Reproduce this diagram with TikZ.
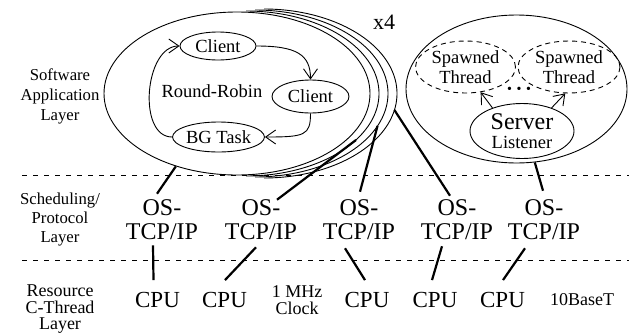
\documentclass[tikz,border=0pt]{standalone}
\usepackage{fontspec}
\setmainfont{Liberation Serif}
\usetikzlibrary{shapes.geometric,arrows.meta,calc}

\begin{document}
\begin{tikzpicture}[x=1pt,y=-1pt,
  thinline/.style={line width=0.9pt},
  oval/.style={ellipse, draw, line width=0.9pt, inner sep=0pt, align=center},
  dashoval/.style={oval, dash pattern=on 5pt off 4pt},
  layerlabel/.style={align=center, inner sep=0pt},
  link/.style={line width=2.2pt},
  flow/.style={line width=0.9pt, -{Straight Barb[length=10pt,width=14pt,line width=0.9pt]}},
  osnode/.style={align=center, inner sep=0pt, font=\fontsize{24}{24}\selectfont},
  cpunode/.style={inner sep=0pt, font=\fontsize{23}{23}\selectfont},
  note/.style={align=center, inner sep=0pt, font=\fontsize{18}{17}\selectfont},
  divider/.style={line width=0.9pt, dash pattern=on 5pt off 6pt}]

\useasboundingbox (0,0) rectangle (629,335);

% layer separators
\draw[divider] (22,175) -- (629,175);
\draw[divider] (22,260) -- (629,260);

% layer names
\node[layerlabel, font=\fontsize{16.7}{20}\selectfont] (lsw) at (60,96.5) {Software\\Application\\Layer};
\node[layerlabel, font=\fontsize{16.7}{19}\selectfont] (lsch) at (60,219.5) {Scheduling/\\Protocol\\Layer};
\node[layerlabel, font=\fontsize{18}{16.5}\selectfont] (lres) at (60,309.5) {Resource\\C-Thread\\Layer};

% client application, replicated four times
\node[oval, minimum width=266pt, minimum height=163pt] (app) at (237,93.5) {};
\foreach \k in {1,2,3}
  \draw[thinline] plot[domain=-90:90, samples=90, smooth]
    ({237+9*\k+133*cos(\x)}, {93.5+(81.5+\k)*sin(\x)});
\coordinate (s2) at (356,140);
\coordinate (s3) at (377.5,126);
\coordinate (s4) at (394.4,110);
\node[font=\fontsize{22}{22}\selectfont, inner sep=0pt] (x4) at (384,22) {x4};

\node[oval, minimum width=76pt, minimum height=28pt, font=\fontsize{18.5}{18.5}\selectfont] (c1) at (218,46) {Client};
\node[oval, minimum width=77pt, minimum height=33pt, font=\fontsize{18.5}{18.5}\selectfont] (c2) at (310.5,96.5) {Client};
\node[oval, minimum width=77pt, minimum height=30pt, font=\fontsize{18.5}{18.5}\selectfont] (bg) at (218.5,137) {BG Task};
\node[inner sep=0pt, font=\fontsize{18.5}{18.5}\selectfont] (rr) at (212,91) {Round-Robin};

\draw[flow] (c1.east) .. controls +(40,0) and +(0,-25) .. (c2.north);
\draw[flow] (c2.south) .. controls +(0,22) and +(40,0) .. (bg.east);
\draw[flow] (bg.west) .. controls +(-35,0) and +(-35,0) .. (c1.west);

% server application
\node[oval, minimum width=221pt, minimum height=148pt] (host) at (516.5,89) {};
\node[dashoval, minimum width=100pt, minimum height=52pt, font=\fontsize{18.5}{20}\selectfont] (sp1) at (465.5,67) {Spawned\\Thread};
\node[dashoval, minimum width=102pt, minimum height=52pt, font=\fontsize{18.5}{20}\selectfont] (sp2) at (569,67) {Spawned\\Thread};
\node[inner sep=0pt, font=\fontsize{14}{14}\selectfont] (dots) at (519,90) {\textbullet\hspace{4.6pt}\textbullet\hspace{4.6pt}\textbullet};
\node[oval, minimum width=104pt, minimum height=55pt, font=\fontsize{18.5}{19.5}\selectfont] (srv) at (522,131) {{\fontsize{24}{24}\selectfont Server}\\Listener};
\draw[flow] (srv.142) -- (sp1.-59);
\draw[flow] (srv.38) -- (sp2.262);

% protocol stacks
\node[osnode] (os1) at (162,220) {OS-\\TCP/IP};
\node[osnode] (os2) at (261,220) {OS-\\TCP/IP};
\node[osnode] (os3) at (359,220) {OS-\\TCP/IP};
\node[osnode] (os4) at (457,220) {OS-\\TCP/IP};
\node[osnode] (os5) at (544,220) {OS-\\TCP/IP};

% resources
\node[cpunode] (cpu1) at (157.5,300) {CPU};
\node[cpunode] (cpu2) at (224.5,300) {CPU};
\node[cpunode] (cpu3) at (367,300) {CPU};
\node[cpunode] (cpu4) at (435,300) {CPU};
\node[cpunode] (cpu5) at (502.5,300) {CPU};
\node[note] (clk) at (297,300) {1 MHz\\Clock};
\node[note] (eth) at (582,300) {10BaseT};

% application to protocol links
\draw[link] (app.230) -- ($(os1.north)+(-5,-6)$);
\draw[link] (s2) -- ($(os2.north)+(16,0)$);
\draw[link] (s3) -- ($(os3.north)+(1,-8)$);
\draw[link] (s4) -- ($(os4.north)+(-7,-4)$);
\draw[link] (host.-76) -- ($(os5.north)+(-1,-9)$);

% protocol to resource links
\draw[link] ($(os1.south)+(-9,5)$) -- ($(cpu1.north)+(-4,-12)$);
\draw[link] ($(os2.south)+(-5,7)$) -- ($(cpu2.north)+(0.5,-12)$);
\draw[link] ($(os3.south)+(-14,8)$) -- ($(cpu3.north)+(-2,-12)$);
\draw[link] ($(os4.south)+(-15,6)$) -- ($(cpu4.north)+(-3,-12)$);
\draw[link] ($(os5.south)+(-19,8)$) -- ($(cpu5.north)+(0.5,-12)$);
\end{tikzpicture}
\end{document}
